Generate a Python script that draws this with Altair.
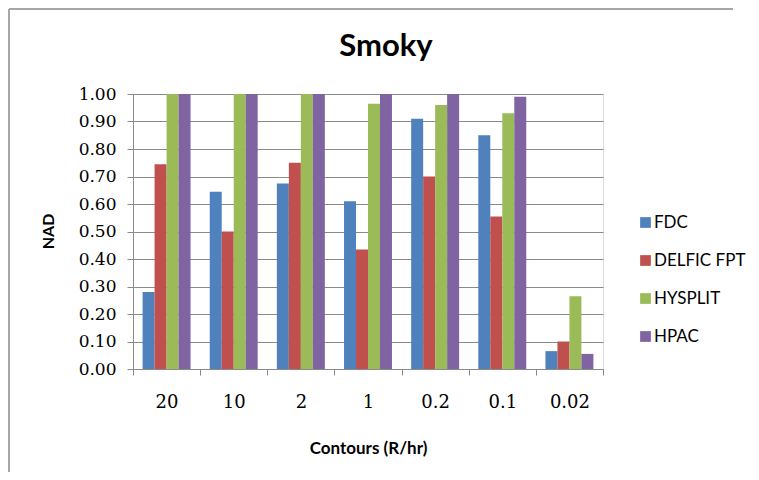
import altair as alt
import pandas as pd

categories = ["20", "10", "2", "1", "0.2", "0.1", "0.02"]
series = ["FDC", "DELFIC FPT", "HYSPLIT", "HPAC"]
fdc = [0.28, 0.645, 0.675, 0.61, 0.91, 0.85, 0.065]
delfic = [0.745, 0.50, 0.75, 0.435, 0.70, 0.555, 0.10]
hysplit = [1.0, 1.0, 1.0, 0.965, 0.96, 0.93, 0.265]
hpac = [1.0, 1.0, 1.0, 1.0, 1.0, 0.99, 0.055]
colors = ["#4F81BD", "#C0504D", "#9BBB59", "#8064A2"]

rows = []
for name, vals in zip(series, [fdc, delfic, hysplit, hpac]):
    for c, v in zip(categories, vals):
        rows.append({"contour": c, "model": name, "nad": v})
df = pd.DataFrame(rows)

GRID = "#8a8a8a"
FRAME = "#a6a6a6"

one = pd.DataFrame({"a": [0]})
frame_left = alt.Chart(one).mark_rule(stroke=FRAME, strokeWidth=2).encode(
    x=alt.value(-124), y=alt.value(-85), y2=alt.value(378)
)
frame_top = alt.Chart(one).mark_rule(stroke=FRAME, strokeWidth=2).encode(
    x=alt.value(-124), x2=alt.value(600), y=alt.value(-85)
)

bars = alt.Chart(df).mark_bar().encode(
    x=alt.X("contour:N", sort=categories,
            scale=alt.Scale(paddingInner=0, paddingOuter=0),
            axis=alt.Axis(title="Contours (R/hr)", labelAngle=0, tickBand="extent",
                          grid=False, domainColor=GRID, tickColor=GRID, tickSize=6,
                          labelFont="DejaVu Serif", labelFontSize=18, labelColor="#000000",
                          labelPadding=18, labelBaseline="top",
                          titleFont="Lato", titleFontSize=17, titleFontWeight="bold",
                          titleColor="#000000", titleX=235, titleY=84,
                          titleBaseline="alphabetic", titleAlign="center")),
    xOffset=alt.XOffset("model:N", sort=series,
                        scale=alt.Scale(paddingOuter=0.8, paddingInner=0)),
    y=alt.Y("nad:Q", scale=alt.Scale(domain=[0, 1], nice=False),
            axis=alt.Axis(title="NAD", values=[i / 10 for i in range(11)], format=".2f",
                          grid=True, gridColor=GRID, gridWidth=1,
                          domainColor=GRID, tickColor=GRID, tickSize=6,
                          labelFont="DejaVu Serif", labelFontSize=17, labelColor="#000000",
                          labelPadding=11,
                          titleFont="Lato", titleFontSize=16, titleFontWeight="bold",
                          titleColor="#000000", titleX=-85, titleY=137, titleAngle=270,
                          titleBaseline="middle", titleAlign="center")),
    color=alt.Color("model:N", sort=series,
                    scale=alt.Scale(domain=series, range=colors),
                    legend=alt.Legend(title=None, orient="none", legendX=504, legendY=120,
                                      symbolType="square", symbolSize=115,
                                      symbolStrokeWidth=0, labelFont="Lato",
                                      labelFontSize=17, labelColor="#000000",
                                      rowPadding=20, labelOffset=0)),
)

chart = alt.layer(frame_left, frame_top, bars).properties(
    width=470, height=275,
    title=alt.TitleParams("Smoky", font="Lato", fontSize=31, fontWeight="bold",
                          color="#000000", anchor="middle", dx=18, offset=-79,
                          baseline="alphabetic"),
    autosize=alt.AutoSizeParams(type="none"),
    padding={"left": 125, "top": 86, "right": 148, "bottom": 103},
).configure_view(stroke=None).configure(background="#ffffff")

chart.save("out.html", embed_options={"renderer": "svg", "actions": False})
